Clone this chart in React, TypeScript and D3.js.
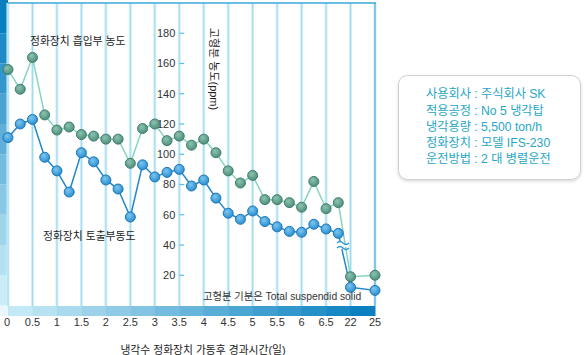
import React from "react";
import * as d3 from "d3";

const xLabels = ["0", "0.5", "1", "1.5", "2", "2.5", "3", "3.5", "4", "4.5", "5", "5.5", "6", "6.5", "22", "25"];
const days = [0, 0.25, 0.5, 0.75, 1, 1.25, 1.5, 1.75, 2, 2.25, 2.5, 2.75, 3, 3.25, 3.5, 3.75, 4, 4.25, 4.5, 4.75, 5, 5.25, 5.5, 5.75, 6, 6.25, 6.5, 6.75, 22, 25];
const inletValues = [156, 143, 164, 126, 116, 118, 113, 112, 110, 110, 94, 117, 120, 109, 112, 106, 110, 101, 89, 81, 86, 70, 70, 68, 65, 82, 64, 68, 19, 20];
const outletValues = [111, 120, 123, 98, 89, 75, 101, 95, 83, 77, 58.5, 93, 85, 88, 90, 79, 83, 71, 61, 57, 62.5, 55.5, 52, 49, 48.4, 53.7, 50.6, 47.7, 12, 10];
const yTicks = [20, 40, 60, 80, 100, 120, 140, 160, 180];
const infoLines = ["사용회사 : 주식회사 SK", "적용공정 : No 5 냉각탑", "냉각용량 : 5,500 ton/h", "정화장치 : 모델 IFS-230", "운전방법 : 2 대 병렬운전"];

const dayToIndex = (d: number) => (d === 22 ? 28 : d === 25 ? 30 : d * 4);

export default function App() {
  const W = 588, H = 355;
  const x = d3.scaleLinear().domain([0, 30]).range([8, 375]);
  const y = d3.scaleLinear().domain([0, 200]).range([305.5, 3]);
  const font = "'Liberation Sans', 'Noto Sans CJK KR', sans-serif";

  const line = d3.line<[number, number]>().x((p) => x(dayToIndex(p[0]))).y((p) => y(p[1]));
  const inlet: [number, number][] = days.map((d, i) => [d, inletValues[i]]);
  const outlet: [number, number][] = days.map((d, i) => [d, outletValues[i]]);

  const stripColor = d3.interpolateRgb("#c9ecf7", "#0a7fc0");
  const barColor = d3.interpolateRgb("#c4e9f6", "#0a80c0");
  const blocks = d3.range(0, 200, 20);
  const cols = d3.range(0, 15);

  const bx = 343, by = 245;

  return (
    <svg width={W} height={H} style={{ position: "absolute", left: 0, top: 0, background: "#fff" }}>
      <defs>
        <radialGradient id="gG" cx="40%" cy="35%" r="65%">
          <stop offset="0%" stopColor="#8cc2b2" />
          <stop offset="100%" stopColor="#4f8f7c" />
        </radialGradient>
        <radialGradient id="bG" cx="40%" cy="35%" r="65%">
          <stop offset="0%" stopColor="#7cc6ee" />
          <stop offset="100%" stopColor="#2a8fd0" />
        </radialGradient>
        <filter id="sh" x="-10%" y="-10%" width="120%" height="130%">
          <feDropShadow dx="0" dy="1.5" stdDeviation="1.5" floodColor="#000" floodOpacity="0.15" />
        </filter>
      </defs>

      {/* left strip */}
      {blocks.map((b) => (
        <rect key={b} x={0} y={b === 180 ? 0 : y(b + 20)} width={8} height={y(b) - (b === 180 ? 0 : y(b + 20))} fill={stripColor(b / 180)} />
      ))}

      {/* bottom bar */}
      <rect x={0} y={306} width={8} height={10} fill="#eaf7fc" />
      {cols.map((c) => (
        <rect key={c} x={x(c * 2)} y={306} width={x(2) - x(0) + 0.5} height={10} fill={barColor(c / 14)} />
      ))}

      {/* vertical grid */}
      {xLabels.map((_, i) => (
        <g key={i}>
          <line x1={x(i * 2)} x2={x(i * 2)} y1={3} y2={306} stroke="#d4f0f9" strokeWidth={3} />
          <line x1={x(i * 2)} x2={x(i * 2)} y1={3} y2={306} stroke={i === 15 ? "#2a9fd6" : "#9cdaef"} strokeWidth={1} />
        </g>
      ))}
      {/* top border */}
      <line x1={8} x2={376} y1={3} y2={3} stroke="#3aa8da" strokeWidth={1.5} />

      {/* y axis ticks */}
      {yTicks.map((t) => (
        <g key={t}>
          <line x1={x(14)} x2={x(14) + 5} y1={y(t)} y2={y(t)} stroke="#5cc0e6" strokeWidth={1.2} />
          <text x={x(14) - 4} y={y(t)} dy="0.35em" textAnchor="end" fontSize={11} fill="#333" fontFamily={font}>{t}</text>
        </g>
      ))}
      <text transform={`translate(210,69) rotate(90)`} textAnchor="middle" fontSize={11} fill="#222" fontFamily={font}>고형분 농도(ppm)</text>

      {/* x labels */}
      {xLabels.map((l, i) => (
        <text key={l} x={i === 0 ? 7 : x(i * 2)} y={322} dy="0.35em" textAnchor="middle" fontSize={11} fill="#333" fontFamily={font}>{l}</text>
      ))}
      <text x={203} y={350} dy="0.35em" textAnchor="middle" fontSize={10.8} fill="#222" fontFamily={font}>냉각수 정화장치 가동후 경과시간(일)</text>

      {/* lines */}
      <path d={line(inlet) || ""} fill="none" stroke="#86d5bc" strokeWidth={1.5} />
      <path d={line(outlet) || ""} fill="none" stroke="#2388cc" strokeWidth={1.5} />

      {/* break mark */}
      <path d={`M${bx - 6},${by - 2} q3,-3 6,0 t6,0 L${bx + 6},${by + 3} q-3,-3 -6,0 t-6,0 Z`} fill="#fff" stroke="none" />
      <path d={`M${bx - 6},${by - 2} q3,-3 6,0 t6,0`} fill="none" stroke="#2a95d2" strokeWidth={1.2} />
      <path d={`M${bx - 6},${by + 3} q3,-3 6,0 t6,0`} fill="none" stroke="#2a95d2" strokeWidth={1.2} />

      {/* markers */}
      {inlet.map((p, i) => (
        <circle key={"g" + i} cx={x(dayToIndex(p[0]))} cy={y(p[1])} r={5} fill="url(#gG)" stroke="#3f7d6c" strokeWidth={1} />
      ))}
      {outlet.map((p, i) => (
        <circle key={"b" + i} cx={x(dayToIndex(p[0]))} cy={y(p[1])} r={5} fill="url(#bG)" stroke="#1b76ba" strokeWidth={1} />
      ))}

      {/* annotations */}
      <text x={30} y={41} dy="0.35em" fontSize={10.8} fill="#222" fontFamily={font}>정화장치 흡입부 농도</text>
      <text x={43} y={236} dy="0.35em" fontSize={10.8} fill="#222" fontFamily={font}>정화장치 토출부동도</text>
      <text x={203} y={296} dy="0.35em" fontSize={10.3} fill="#333" fontFamily={font}>고형분 기분은 Total suspendid solid</text>

      {/* info box */}
      <rect x={398.5} y={75.5} width={182} height={104} rx={9} fill="#fff" stroke="#cfcfcf" strokeWidth={1} filter="url(#sh)" />
      {infoLines.map((l, i) => (
        <text key={i} x={426} y={94 + i * 16.3} dy="0.35em" fontSize={12.2} fill="#26a6c6" fontFamily={font}>{l}</text>
      ))}
    </svg>
  );
}
